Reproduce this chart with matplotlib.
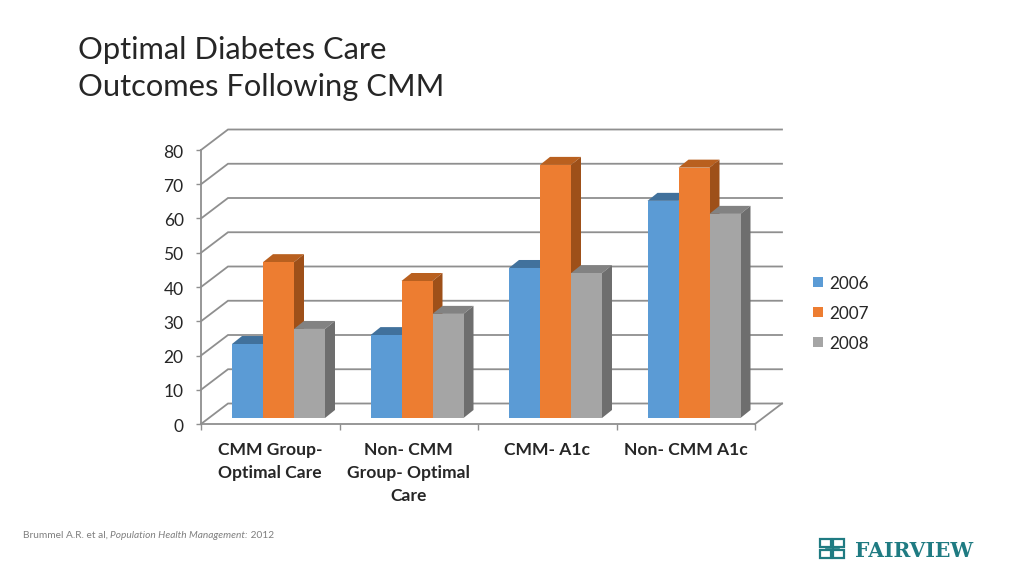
import matplotlib
matplotlib.use("Agg")
import matplotlib.pyplot as plt
from matplotlib.patches import Polygon, Rectangle
from matplotlib.transforms import ScaledTranslation

plt.rcParams['font.family'] = ['Lato', 'DejaVu Sans']

categories = ["CMM Group-\nOptimal Care", "Non- CMM\nGroup- Optimal\nCare", "CMM- A1c", "Non- CMM A1c"]
series_names = ["2006", "2007", "2008"]
values_2006 = [21.6, 24.2, 43.8, 63.4]
values_2007 = [45.5, 40.0, 73.9, 73.1]
values_2008 = [26.0, 30.4, 42.3, 59.6]
y_ticks = [0, 10, 20, 30, 40, 50, 60, 70, 80]

front = ['#5B9BD5', '#ED7D31', '#A5A5A5']
top = ['#41719C', '#B9601F', '#828282']
side = ['#3F6E98', '#9E5019', '#6E6E6E']
GRID = '#8F8F8F'

W, H = 1024, 576
fig = plt.figure(figsize=(W / 100, H / 100), dpi=100, facecolor='white')
L, R, B, T = 201, 755, 424, 150
ax = fig.add_axes([L / W, 1 - B / H, (R - L) / W, (B - T) / H])
ax.set_xlim(0, 4)
ax.set_ylim(0, 80)
ax.patch.set_alpha(0)

px = 4 / (R - L)          # data x per pixel
py = 80 / (B - T)         # data y per pixel
wall_dx, wall_dy = 27 * px, 20.5 * py
bar_dx, bar_dy = 10 * px, 8 * py
base = 6 * py
bar_w = 31 * px
inset = 31 * px

# back wall gridlines and left wall diagonals
for v in y_ticks:
    ax.plot([0, wall_dx, 4 + wall_dx], [v, v + wall_dy, v + wall_dy], color=GRID, lw=1.3,
            clip_on=False, zorder=1, solid_joinstyle='miter')
ax.plot([4, 4 + wall_dx], [0, wall_dy], color=GRID, lw=1.3, clip_on=False, zorder=1)

# bars
all_values = [values_2006, values_2007, values_2008]
for c in range(len(categories)):
    for s, vals in enumerate(all_values):
        x0 = c + inset + s * bar_w
        x1 = x0 + bar_w
        y0 = base
        y1 = base + vals[c]
        ax.add_patch(Polygon([(x0, y1), (x1, y1), (x1 + bar_dx, y1 + bar_dy), (x0 + bar_dx, y1 + bar_dy)],
                             fc=top[s], ec='none', clip_on=False, zorder=3 + c * 3 + s))
        ax.add_patch(Polygon([(x1, y0), (x1 + bar_dx, y0 + bar_dy), (x1 + bar_dx, y1 + bar_dy), (x1, y1)],
                             fc=side[s], ec='none', clip_on=False, zorder=3 + c * 3 + s))
        ax.add_patch(Rectangle((x0, y0), bar_w, vals[c], fc=front[s], ec='none',
                               clip_on=False, zorder=3 + c * 3 + s))

for k in ('top', 'right'):
    ax.spines[k].set_visible(False)
for k in ('left', 'bottom'):
    ax.spines[k].set_color(GRID)
    ax.spines[k].set_linewidth(1.3)
    ax.spines[k].set_zorder(2)

ax.set_yticks(y_ticks)
ax.set_xticks(range(5))
ax.set_xticklabels([])
ax.set_xticks([i + .5 for i in range(4)], minor=True)
ax.set_xticklabels(categories, minor=True, fontsize=12.6, fontweight='bold', color='#262626',
                   linespacing=1.52, va='top')
ax.tick_params(axis='x', which='major', length=4, width=1, color=GRID)
ax.tick_params(axis='x', which='minor', length=0, pad=13)
ax.tick_params(axis='y', length=3.5, width=1, color=GRID, labelsize=12.5, labelcolor='#262626', pad=9)
shift = ScaledTranslation(0, -0.8 / 72, fig.dpi_scale_trans)
for lab in ax.get_yticklabels():
    lab.set_transform(lab.get_transform() + shift)

# overlay in pixel coordinates for slide furniture
ov = fig.add_axes([0, 0, 1, 1])
ov.set_xlim(0, W)
ov.set_ylim(H, 0)
ov.axis('off')

ov.text(78, 50, "Optimal Diabetes Care", fontsize=22.2, color='#262626', va='center', ha='left')
ov.text(78, 87, "Outcomes Following CMM", fontsize=22.2, color='#262626', va='center', ha='left')

# legend
for i, (name, yy) in enumerate(zip(series_names, [282, 312, 342])):
    ov.add_patch(Rectangle((813, yy - 5), 10, 10, fc=front[i], ec='none'))
    ov.text(829, yy + 2, name, fontsize=12.3, color='#262626', va='center', ha='left')

# footer
r = fig.canvas.get_renderer()
xpos = 23
for txt, st in [("Brummel A.R. et al, ", 'normal'), ("Population Health Management:", 'italic'), (" 2012", 'normal')]:
    t = ov.text(xpos, 537.5, txt.replace(' ', '\u00a0'), fontsize=7.3, style=st, color='#7F7F7F',
                va='baseline', ha='left')
    xpos += t.get_window_extent(r).width

# logo
TEAL = '#1F7B82'
for (x, y) in [(820, 539), (833, 539), (820, 550), (833, 550)]:
    ov.add_patch(Rectangle((x, y), 11, 8, fc='none', ec=TEAL, lw=1.6))
ov.plot([826, 839], [548.5, 548.5], color=TEAL, lw=1.2)
ov.plot([832.5, 832.5], [542, 555], color=TEAL, lw=1.2)
ov.text(855.5, 557, "FAIRVIEW", family='DejaVu Serif', fontweight='bold', fontsize=14.6, color=TEAL,
        va='baseline', ha='left')

fig.savefig('out.png', dpi=100, facecolor='white')
